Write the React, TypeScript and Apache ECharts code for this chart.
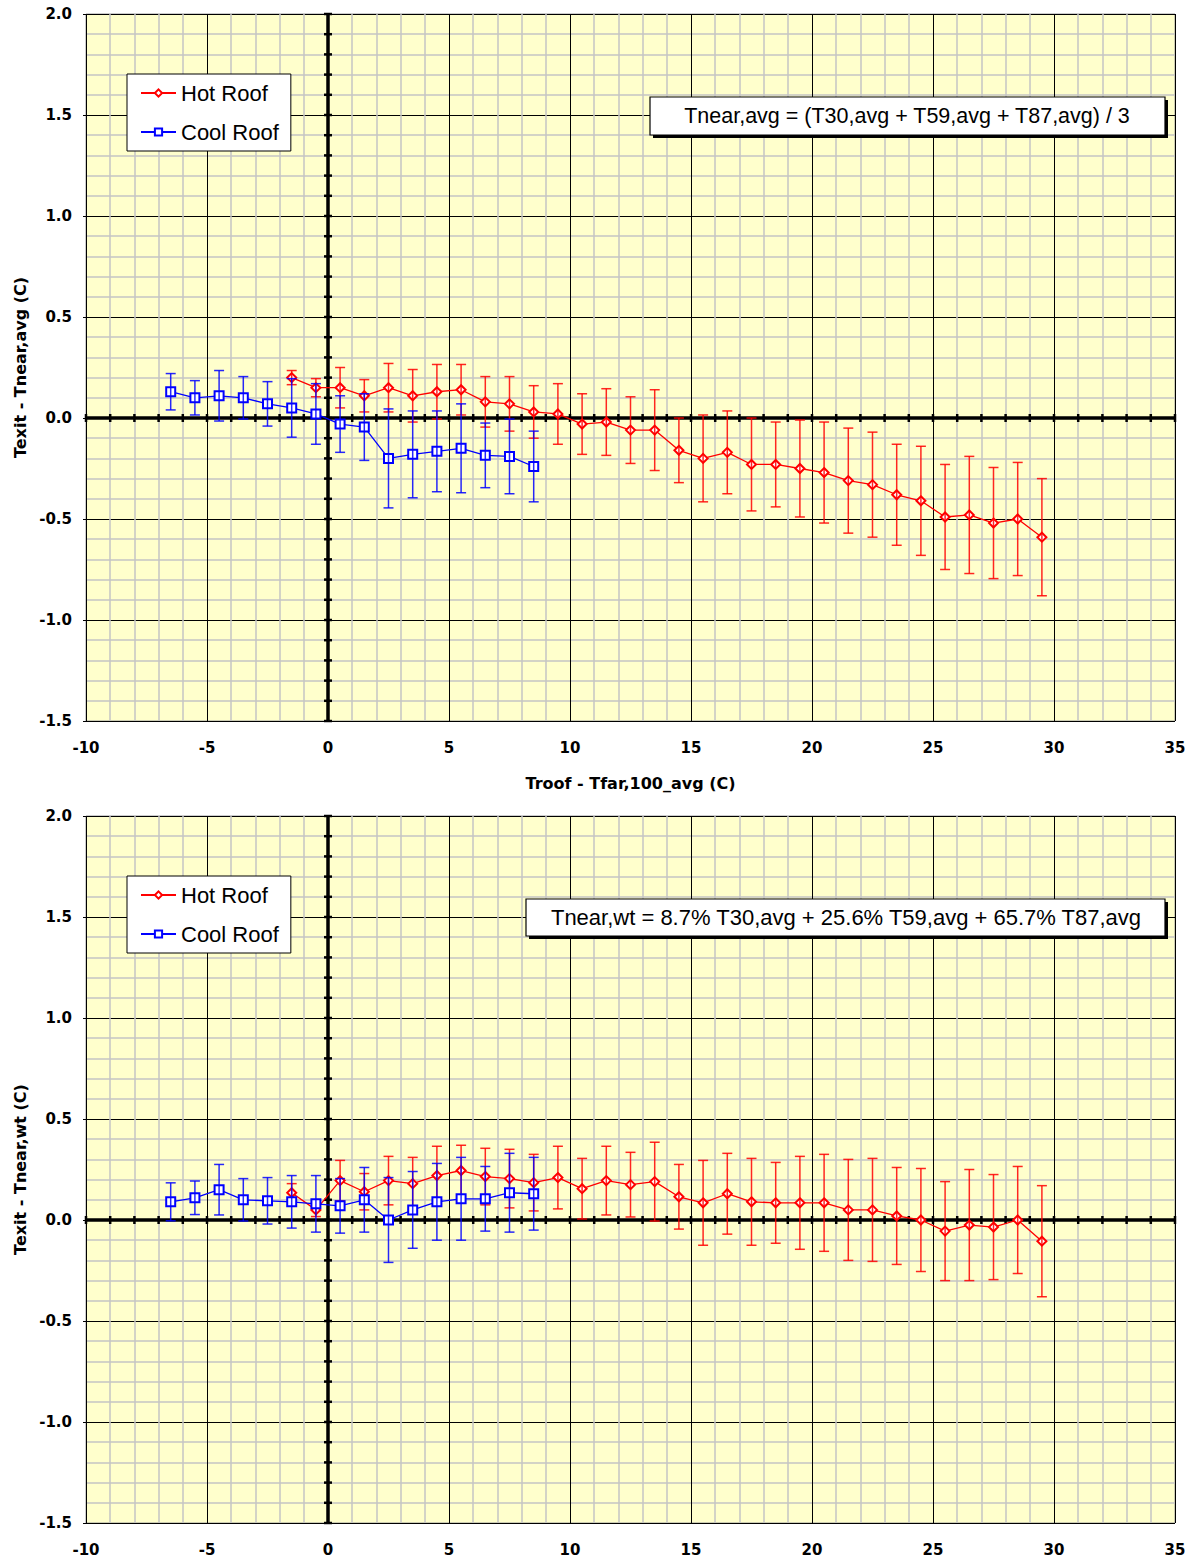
import React, { useEffect, useRef } from 'react';
import * as echarts from 'echarts';

// ---------- data ----------
const hotX = [-1.5, -0.5, 0.5, 1.5, 2.5, 3.5, 4.5, 5.5, 6.5, 7.5, 8.5, 9.5, 10.5, 11.5, 12.5, 13.5, 14.5, 15.5, 16.5, 17.5, 18.5, 19.5, 20.5, 21.5, 22.5, 23.5, 24.5, 25.5, 26.5, 27.5, 28.5, 29.5];
const coolX = [-6.5, -5.5, -4.5, -3.5, -2.5, -1.5, -0.5, 0.5, 1.5, 2.5, 3.5, 4.5, 5.5, 6.5, 7.5, 8.5];

// top chart: Texit - Tnear,avg
const hotAvgY = [0.20, 0.15, 0.15, 0.11, 0.15, 0.11, 0.13, 0.14, 0.08, 0.07, 0.03, 0.02, -0.03, -0.02, -0.06, -0.06, -0.16, -0.20, -0.17, -0.23, -0.23, -0.25, -0.27, -0.31, -0.33, -0.38, -0.41, -0.49, -0.48, -0.52, -0.50, -0.59];
const hotAvgErr = [0.035, 0.045, 0.10, 0.08, 0.12, 0.13, 0.135, 0.125, 0.125, 0.135, 0.13, 0.15, 0.15, 0.165, 0.165, 0.20, 0.16, 0.215, 0.205, 0.23, 0.21, 0.24, 0.25, 0.26, 0.26, 0.25, 0.27, 0.26, 0.29, 0.275, 0.28, 0.29];
const coolAvgY = [0.13, 0.10, 0.11, 0.10, 0.07, 0.05, 0.02, -0.03, -0.045, -0.20, -0.18, -0.165, -0.15, -0.185, -0.19, -0.24];
const coolAvgErr = [0.09, 0.085, 0.125, 0.105, 0.11, 0.145, 0.15, 0.14, 0.165, 0.245, 0.215, 0.20, 0.22, 0.16, 0.185, 0.175];

// bottom chart: Texit - Tnear,wt
const hotWtY = [0.135, 0.05, 0.195, 0.14, 0.195, 0.18, 0.22, 0.245, 0.215, 0.205, 0.185, 0.21, 0.155, 0.195, 0.175, 0.19, 0.115, 0.085, 0.13, 0.09, 0.085, 0.085, 0.085, 0.05, 0.05, 0.02, 0.0, -0.055, -0.025, -0.035, 0.0, -0.105];
const hotWtErr = [0.045, 0.033, 0.10, 0.09, 0.12, 0.13, 0.145, 0.125, 0.14, 0.145, 0.14, 0.155, 0.15, 0.17, 0.16, 0.195, 0.16, 0.21, 0.20, 0.215, 0.20, 0.23, 0.24, 0.25, 0.255, 0.24, 0.255, 0.245, 0.275, 0.26, 0.265, 0.275];
const coolWtY = [0.09, 0.11, 0.15, 0.10, 0.095, 0.09, 0.08, 0.07, 0.10, 0.0, 0.05, 0.09, 0.105, 0.105, 0.135, 0.13];
const coolWtErr = [0.094, 0.083, 0.125, 0.105, 0.115, 0.13, 0.14, 0.135, 0.16, 0.21, 0.19, 0.19, 0.205, 0.16, 0.195, 0.18];

const legendNames = ['Hot Roof', 'Cool Roof'];
const xAxisTitle = 'Troof - Tfar,100_avg (C)';
const yAxisTitles = ['Texit - Tnear,avg (C)', 'Texit - Tnear,wt (C)'];
const equations = [
  'Tnear,avg = (T30,avg + T59,avg + T87,avg) / 3',
  'Tnear,wt = 8.7% T30,avg + 25.6% T59,avg + 65.7% T87,avg',
];

const X_MIN = -10, X_MAX = 35, X_STEP = 5;
const Y_MIN = -1.5, Y_MAX = 2.0, Y_STEP = 0.5;
const X_ZERO_TICKS: number[] = [];
for (let v = X_MIN; v <= X_MAX; v += 1) X_ZERO_TICKS.push(v);
const Y_ZERO_TICKS: number[] = [];
for (let i = 0; i <= 35; i++) Y_ZERO_TICKS.push(Math.round((Y_MIN + i * 0.1) * 10) / 10);

const RED = '#ff0000';
const BLUE = '#0000ff';
const TICK_FONT = 'DejaVu Sans';
const TEXT_FONT = 'Liberation Sans';

const GRID_TOPS = [14, 816];
const GRID_H = 707;
const GRID_LEFT = 86;
const GRID_W = 1089;

function errorSeries(name: string, xs: number[], ys: number[], errs: number[], color: string, gi: number, z: number) {
  return {
    type: 'custom',
    name,
    xAxisIndex: gi,
    yAxisIndex: gi,
    z,
    silent: true,
    clip: false,
    data: xs.map((x, i) => [x, ys[i] - errs[i], ys[i] + errs[i]]),
    encode: { x: 0, y: [1, 2] },
    renderItem: (params: any, api: any) => {
      const x = api.value(0);
      const lo = api.coord([x, api.value(1)]);
      const hi = api.coord([x, api.value(2)]);
      const w = 5;
      const style = { stroke: color, lineWidth: 1.5, opacity: 0.85 };
      return {
        type: 'group',
        children: [
          { type: 'line', shape: { x1: hi[0], y1: hi[1], x2: lo[0], y2: lo[1] }, style },
          { type: 'line', shape: { x1: hi[0] - w, y1: hi[1], x2: hi[0] + w, y2: hi[1] }, style },
          { type: 'line', shape: { x1: lo[0] - w, y1: lo[1], x2: lo[0] + w, y2: lo[1] }, style },
        ],
      };
    },
  };
}

function zeroAxesSeries(gi: number) {
  return {
    type: 'custom',
    name: 'zero-axes-' + gi,
    xAxisIndex: gi,
    yAxisIndex: gi,
    z: 2,
    silent: true,
    clip: false,
    data: [[0, 0]],
    renderItem: (params: any, api: any) => {
      const children: any[] = [];
      const main = { stroke: '#000', lineWidth: 3.5 };
      const tick = { stroke: '#000', lineWidth: 2.5 };
      const l = api.coord([X_MIN, 0]);
      const r = api.coord([X_MAX, 0]);
      const b = api.coord([0, Y_MIN]);
      const t = api.coord([0, Y_MAX]);
      children.push({ type: 'line', shape: { x1: l[0], y1: l[1], x2: r[0], y2: r[1] }, style: main });
      children.push({ type: 'line', shape: { x1: b[0], y1: b[1], x2: t[0], y2: t[1] }, style: main });
      X_ZERO_TICKS.forEach((v) => {
        const p = api.coord([v, 0]);
        children.push({ type: 'line', shape: { x1: p[0], y1: p[1] - 4, x2: p[0], y2: p[1] + 4 }, style: tick });
      });
      Y_ZERO_TICKS.forEach((v) => {
        const p = api.coord([0, v]);
        children.push({ type: 'line', shape: { x1: p[0] - 4, y1: p[1], x2: p[0] + 4, y2: p[1] }, style: tick });
      });
      return { type: 'group', children };
    },
  };
}

function lineSeries(name: string, xs: number[], ys: number[], color: string, symbol: string, gi: number, z: number) {
  return {
    type: 'line',
    name,
    xAxisIndex: gi,
    yAxisIndex: gi,
    z,
    data: xs.map((x, i) => [x, ys[i]]),
    symbol,
    symbolSize: 9,
    showAllSymbol: true,
    lineStyle: { color, width: 1.3 },
    itemStyle: { color, borderWidth: 1.3 },
    emphasis: { disabled: true },
  };
}

export default function App() {
  const ref = useRef<HTMLDivElement>(null);

  useEffect(() => {
    if (!ref.current) return;
    const chart = echarts.init(ref.current, undefined, { renderer: 'svg' });

    const grids = GRID_TOPS.map((top) => ({
      left: GRID_LEFT,
      top,
      width: GRID_W,
      height: GRID_H,
      show: true,
      backgroundColor: '#ffffcc',
      borderColor: '#999999',
      borderWidth: 1,
    }));

    const xAxes = [0, 1].map((gi) => ({
      type: 'value',
      gridIndex: gi,
      min: X_MIN,
      max: X_MAX,
      interval: X_STEP,
      name: gi === 0 ? xAxisTitle : '',
      nameLocation: 'middle',
      nameGap: 54,
      nameTextStyle: { fontFamily: TICK_FONT, fontWeight: 'bold', fontSize: 16, color: '#000' },
      axisLine: { show: false, onZero: false },
      axisTick: { show: false },
      axisLabel: { fontFamily: TICK_FONT, fontWeight: 'bold', fontSize: 15, color: '#000', margin: 19 },
      splitLine: { show: true, lineStyle: { color: '#000', width: 1 } },
      minorTick: { show: false, splitNumber: 5 },
      minorSplitLine: { show: true, lineStyle: { color: '#c4c4c4', width: 1.5 } },
    }));

    const yAxes = [0, 1].map((gi) => ({
      type: 'value',
      gridIndex: gi,
      min: Y_MIN,
      max: Y_MAX,
      interval: Y_STEP,
      name: yAxisTitles[gi],
      nameLocation: 'middle',
      nameGap: 58,
      nameRotate: 90,
      nameTextStyle: { fontFamily: TICK_FONT, fontWeight: 'bold', fontSize: 16, color: '#000' },
      axisLine: { show: false, onZero: false },
      axisTick: { show: true, length: 3, lineStyle: { color: '#000' } },
      axisLabel: {
        fontFamily: TICK_FONT, fontWeight: 'bold', fontSize: 15, color: '#000', margin: 14,
        formatter: (v: number) => v.toFixed(1),
      },
      splitLine: { show: true, lineStyle: { color: '#000', width: 1 } },
      minorTick: { show: false, splitNumber: 5 },
      minorSplitLine: { show: true, lineStyle: { color: '#c4c4c4', width: 1.5 } },
    }));

    const legends = [0, 1].map((gi) => ({
      data: legendNames,
      orient: 'vertical',
      left: 127,
      top: GRID_TOPS[gi] + 60,
      backgroundColor: '#ffffff',
      borderColor: '#000000',
      borderWidth: 1,
      borderRadius: 0,
      padding: [8, 12, 8, 13],
      itemGap: 17,
      itemWidth: 35,
      itemHeight: 9,
      itemTextGap: 7,
      itemStyle: { borderWidth: 1.2 },
      selectedMode: false,
      textStyle: { fontFamily: TEXT_FONT, fontSize: 22, color: '#000' },
      z: 10,
    }));

    const boxes = [
      { x: 650, y: 97, w: 515, h: 38, cx: 907, size: 21.5, text: equations[0] },
      { x: 526, y: 899, w: 639, h: 37, cx: 846, size: 22, text: equations[1] },
    ];
    const graphic: any[] = [];
    boxes.forEach((b) => {
      graphic.push({ type: 'rect', shape: { x: b.x + 3, y: b.y + 3, width: b.w, height: b.h }, style: { fill: '#000' }, z: 20, silent: true });
      graphic.push({ type: 'rect', shape: { x: b.x, y: b.y, width: b.w, height: b.h }, style: { fill: '#fff', stroke: '#000', lineWidth: 1.2 }, z: 21, silent: true });
      graphic.push({
        type: 'text', x: b.cx, y: b.y + b.h / 2, z: 22, silent: true,
        style: { text: b.text, fontFamily: TEXT_FONT, fontSize: b.size, fill: '#000', align: 'center', verticalAlign: 'middle' },
      });
    });

    const series: any[] = [];
    const sets = [
      { hy: hotAvgY, he: hotAvgErr, cy: coolAvgY, ce: coolAvgErr },
      { hy: hotWtY, he: hotWtErr, cy: coolWtY, ce: coolWtErr },
    ];
    sets.forEach((s, gi) => {
      series.push(zeroAxesSeries(gi));
      series.push(lineSeries('Hot Roof', hotX, s.hy, RED, 'emptyDiamond', gi, 3));
      series.push(errorSeries('hot-err-' + gi, hotX, s.hy, s.he, RED, gi, 4));
      series.push(lineSeries('Cool Roof', coolX, s.cy, BLUE, 'emptyRect', gi, 5));
      series.push(errorSeries('cool-err-' + gi, coolX, s.cy, s.ce, BLUE, gi, 6));
    });

    chart.setOption({
      animation: false,
      backgroundColor: '#ffffff',
      grid: grids,
      xAxis: xAxes,
      yAxis: yAxes,
      legend: legends,
      graphic,
      series,
    });

    return () => chart.dispose();
  }, []);

  return <div ref={ref} style={{ position: 'absolute', left: 0, top: 0, width: 1194, height: 1562 }} />;
}
